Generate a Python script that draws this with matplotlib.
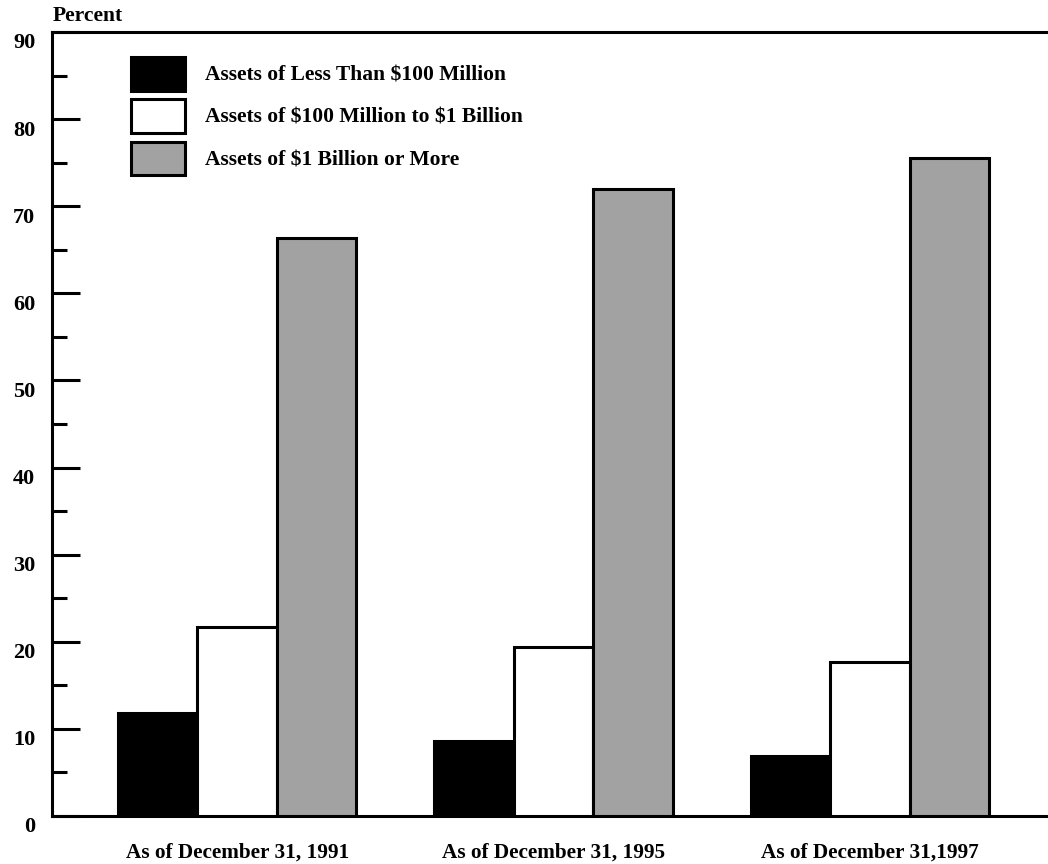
import matplotlib
matplotlib.use("Agg")
import matplotlib.pyplot as plt
import numpy as np
from matplotlib.ticker import MultipleLocator
from matplotlib.transforms import ScaledTranslation

categories = ["As of December 31, 1991", "As of December 31, 1995", "As of December 31,1997"]
series_names = ["Assets of Less Than \\$100 Million",
                "Assets of \\$100 Million to \\$1 Billion",
                "Assets of \\$1 Billion or More"]
small = [11.8, 8.6, 6.9]
medium = [21.7, 19.4, 17.7]
large = [66.4, 72.0, 75.5]
yticks = [0, 10, 20, 30, 40, 50, 60, 70, 80, 90]

plt.rcParams['font.family'] = ['Liberation Serif', 'DejaVu Serif']
plt.rcParams['font.weight'] = 'bold'

fig = plt.figure(figsize=(10.48, 8.64), dpi=100)
ax = fig.add_axes([52/1048, 48/864, 1 - 52/1048, 784/864])

x = np.arange(len(categories))
w = 0.251
colors = ['black', 'white', '#a2a2a2']
for i, (vals, c, name) in enumerate(zip([small, medium, large], colors, series_names)):
    ax.bar(x + (i - 1) * w, vals, width=w, color=c, edgecolor='black',
           linewidth=2.2, label=name, zorder=3)

ax.set_xlim(-0.585, 2.562)
ax.set_ylim(0, 90)
ax.set_yticks(yticks)
ax.yaxis.set_minor_locator(MultipleLocator(5))
ax.tick_params(axis='y', which='major', direction='in', length=20, width=2.2,
               labelsize=16, pad=12)
ax.tick_params(axis='y', which='minor', direction='in', length=11, width=2.2)
ax.set_xticks(x)
ax.set_xticklabels(categories)
ax.tick_params(axis='x', length=0, labelsize=15.3, pad=19)
for lab in ax.get_yticklabels():
    lab.set_fontweight('bold')
    lab.set_transform(lab.get_transform() + ScaledTranslation(0, -0.09, fig.dpi_scale_trans))
for lab in ax.get_xticklabels():
    lab.set_fontweight('bold')

for s in ['left', 'top', 'bottom']:
    ax.spines[s].set_linewidth(2.2)
ax.spines['right'].set_visible(False)

fig.text(53/1048, 1 - 16/864, "Percent", ha='left', va='center', fontsize=15.5, fontweight='bold')

leg = ax.legend(loc='upper left', bbox_to_anchor=(131/1048, 1 - 57/864),
                bbox_transform=fig.transFigure, frameon=False, fontsize=15.5,
                handlelength=2.5, handleheight=2.03, labelspacing=0.4,
                handletextpad=0.93, borderpad=0, borderaxespad=0)
for t in leg.get_texts():
    t.set_fontweight('bold')

fig.savefig("out.png", dpi=100)
